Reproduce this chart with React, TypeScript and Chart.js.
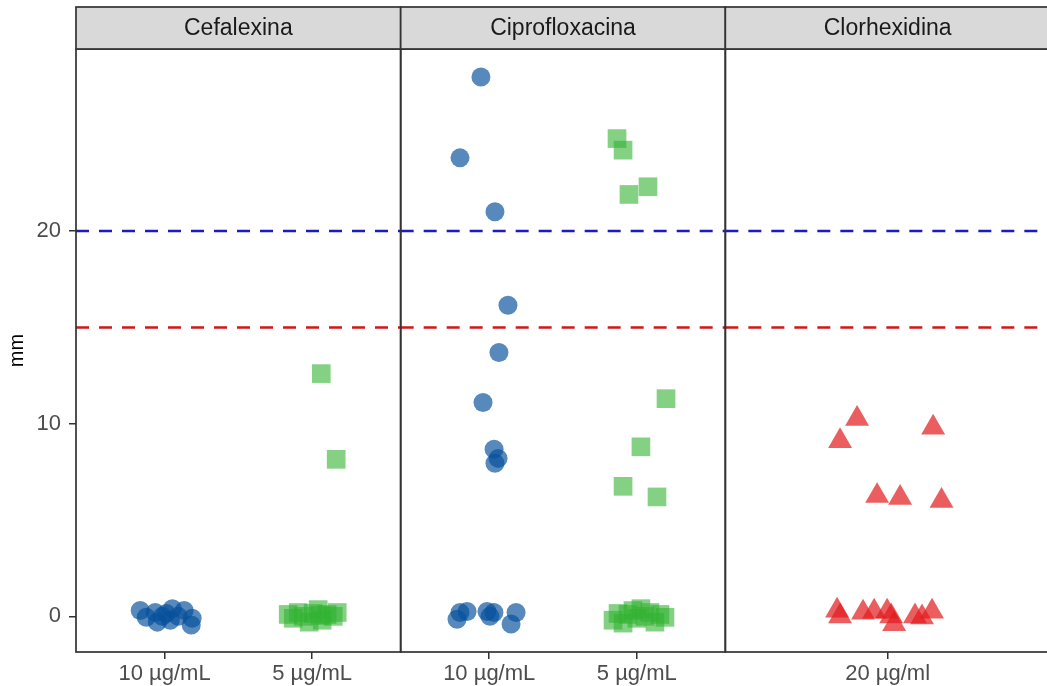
import React, { useEffect, useRef } from 'react';
import { Chart, registerables } from 'chart.js';

Chart.register(...registerables);

// ---------- data ----------
const panelNames = ['Cefalexina', 'Ciprofloxacina', 'Clorhexidina'];
const panelCategories = [['10 µg/mL', '5 µg/mL'], ['10 µg/mL', '5 µg/mL'], ['20 µg/ml']];
const yTickValues = [0, 10, 20];
const thresholdValues = [20, 15];

// Cefalexina 10 µg/mL (mm) and horizontal jitter (category units)
const cefa10Values = [0.3, -0.05, 0.2, -0.3, 0.15, -0.2, 0.4, 0.3, -0.45, -0.1, 0.0, 0.0];
const cefa10Jitter = [-0.165, -0.124, -0.063, -0.049, 0.012, 0.039, 0.053, 0.133, 0.181, 0.187, 0.093, -0.016];

// Cefalexina 5 µg/mL
const cefa5Values = [0.1, -0.1, 0.2, 0.0, -0.3, 0.15, 0.35, -0.2, 0.1, 0.0, 0.2, 0.05, 12.6, 8.15];
const cefa5Jitter = [-0.162, -0.128, -0.094, -0.06, -0.02, 0.007, 0.041, 0.068, 0.102, 0.143, 0.17, 0.055, 0.062, 0.163];

// Ciprofloxacina 10 µg/mL
const cipro10Values = [28.0, 23.8, 21.0, 16.15, 13.7, 11.1, 8.68, 8.2, 7.95, 0.2, -0.15, 0.25, 0.25, 0.2, 0.0, 0.2, -0.4];
const cipro10Jitter = [-0.056, -0.198, 0.039, 0.127, 0.066, -0.042, 0.033, 0.06, 0.039, -0.198, -0.218, -0.15, -0.015, 0.032, 0.005, 0.182, 0.148];

// Ciprofloxacina 5 µg/mL
const cipro5Values = [24.8, 24.2, 22.3, 21.9, 11.3, 8.8, 6.75, 6.2, -0.2, 0.15, -0.35, 0.1, 0.3, -0.1, 0.4, 0.0, 0.2, -0.3, 0.1, -0.05];
const cipro5Jitter = [-0.134, -0.093, 0.076, -0.053, 0.198, 0.028, -0.093, 0.137, -0.161, -0.127, -0.093, -0.06, -0.026, 0.001, 0.028, 0.056, 0.089, 0.123, 0.157, 0.191];

// Clorhexidina 20 µg/ml
const clor20Values = [10.25, 9.1, 9.8, 6.25, 6.15, 6.0, 0.3, 0.0, 0.2, 0.25, 0.25, 0.0, -0.4, 0.0, -0.05, 0.25];
const clor20Jitter = [-0.113, -0.176, 0.168, -0.039, 0.046, 0.199, -0.187, -0.176, -0.091, -0.05, -0.002, 0.013, 0.024, 0.101, 0.127, 0.164];

// ---------- helpers ----------
const FONT = "'Liberation Sans', Arial, Helvetica, sans-serif";
const CHART_W = 1052;
const CHART_H = 686;
const X_MIN = 0;
const X_MAX = panelNames.length;

function categoryPos(panel: number, cat: number, jitter = 0) {
  const n = panelCategories[panel].length;
  return panel + (cat + 0.6 + jitter) / (n + 0.2);
}

const tickPositions: number[] = [];
const tickLabels: string[] = [];
panelCategories.forEach((cats, p) =>
  cats.forEach((label, c) => {
    tickPositions.push(categoryPos(p, c));
    tickLabels.push(label);
  })
);

function points(panel: number, cat: number, values: number[], jitter: number[]) {
  return values.map((v, i) => ({ x: categoryPos(panel, cat, jitter[i]), y: v }));
}

const facetPlugin = {
  id: 'facets',
  beforeDatasetsDraw(chart: any) {
    const { ctx, scales } = chart;
    const x = scales.x;
    const y = scales.y;
    const colors = ['#1a1acc', '#d01818'];
    ctx.save();
    thresholdValues.forEach((t, i) => {
      const py = y.getPixelForValue(t);
      for (let p = 0; p < panelNames.length; p++) {
        const l = x.getPixelForValue(p);
        const r = x.getPixelForValue(p + 1);
        ctx.beginPath();
        ctx.setLineDash([13, 10]);
        ctx.lineWidth = 2.5;
        ctx.strokeStyle = colors[i];
        ctx.moveTo(l, py);
        ctx.lineTo(r, py);
        ctx.stroke();
      }
    });
    ctx.restore();
  },
  afterDatasetsDraw(chart: any) {
    const { ctx, chartArea, scales } = chart;
    const x = scales.x;
    const stripTop = chartArea.top - 42;
    ctx.save();
    ctx.setLineDash([]);
    for (let p = 0; p < panelNames.length; p++) {
      const l = x.getPixelForValue(p);
      const r = x.getPixelForValue(p + 1);
      ctx.lineWidth = 1.7;
      ctx.strokeStyle = '#333333';
      ctx.strokeRect(l, chartArea.top, r - l, chartArea.bottom - chartArea.top);
      ctx.fillStyle = '#d9d9d9';
      ctx.fillRect(l, stripTop, r - l, chartArea.top - stripTop);
      ctx.strokeRect(l, stripTop, r - l, chartArea.top - stripTop);
      ctx.fillStyle = '#1a1a1a';
      ctx.font = `23px ${FONT}`;
      ctx.textAlign = 'center';
      ctx.textBaseline = 'middle';
      ctx.fillText(panelNames[p], (l + r) / 2, (stripTop + chartArea.top) / 2 + 1);
    }
    ctx.restore();
  },
};

export default function App() {
  const canvasRef = useRef<HTMLCanvasElement | null>(null);

  useEffect(() => {
    const canvas = canvasRef.current;
    if (!canvas) return;
    const chart = new Chart(canvas, {
      type: 'scatter',
      data: {
        datasets: [
          {
            data: [...points(0, 0, cefa10Values, cefa10Jitter), ...points(1, 0, cipro10Values, cipro10Jitter)],
            pointStyle: 'circle',
            pointRadius: 9.5,
            backgroundColor: 'rgba(8, 81, 156, 0.68)',
            borderWidth: 0,
          },
          {
            data: [...points(0, 1, cefa5Values, cefa5Jitter), ...points(1, 1, cipro5Values, cipro5Jitter)],
            pointStyle: 'rect',
            pointRadius: 13.2,
            backgroundColor: 'rgba(50, 178, 50, 0.6)',
            borderWidth: 0,
          },
          {
            data: points(2, 0, clor20Values, clor20Jitter),
            pointStyle: 'triangle',
            pointRadius: 13.8,
            backgroundColor: 'rgba(227, 26, 28, 0.7)',
            borderWidth: 0,
          },
        ],
      },
      options: {
        animation: false,
        responsive: false,
        devicePixelRatio: 1,
        layout: { autoPadding: false, padding: { top: 49, right: 2, left: 0, bottom: 0 } },
        plugins: { legend: { display: false }, tooltip: { enabled: false } },
        scales: {
          x: {
            type: 'linear',
            min: X_MIN,
            max: X_MAX,
            afterFit: (s: any) => {
              s.height = 34;
              s.paddingLeft = 0;
              s.paddingRight = 0;
            },
            afterBuildTicks: (s: any) => {
              s.ticks = tickPositions.map((v) => ({ value: v }));
            },
            ticks: {
              callback: (_v: any, i: number) => tickLabels[i],
              autoSkip: false,
              maxRotation: 0,
              padding: 2,
              color: '#4d4d4d',
              font: { family: FONT, size: 22 },
            },
            grid: { drawOnChartArea: false, drawTicks: true, tickLength: 7, color: '#333333', lineWidth: 1.5 },
            border: { display: false },
          },
          y: {
            type: 'linear',
            min: -1.85,
            max: 29.45,
            afterFit: (s: any) => {
              s.width = 76;
              s.paddingTop = 0;
              s.paddingBottom = 0;
            },
            afterBuildTicks: (s: any) => {
              s.ticks = yTickValues.map((v) => ({ value: v }));
            },
            ticks: {
              padding: 8,
              color: '#4d4d4d',
              font: { family: FONT, size: 22 },
            },
            grid: { drawOnChartArea: false, drawTicks: true, tickLength: 7, color: '#333333', lineWidth: 1.5 },
            border: { display: false },
            title: {
              display: true,
              text: 'mm',
              color: '#000000',
              font: { family: FONT, size: 20 },
              padding: { top: 5, bottom: 0 },
            },
          },
        },
      },
      plugins: [facetPlugin],
    } as any);
    return () => chart.destroy();
  }, []);

  return (
    <div style={{ position: 'fixed', left: 0, top: 0, width: 1047, height: 686, overflow: 'hidden', background: '#ffffff' }}>
      <canvas ref={canvasRef} width={CHART_W} height={CHART_H} style={{ width: CHART_W, height: CHART_H, display: 'block' }} />
    </div>
  );
}
